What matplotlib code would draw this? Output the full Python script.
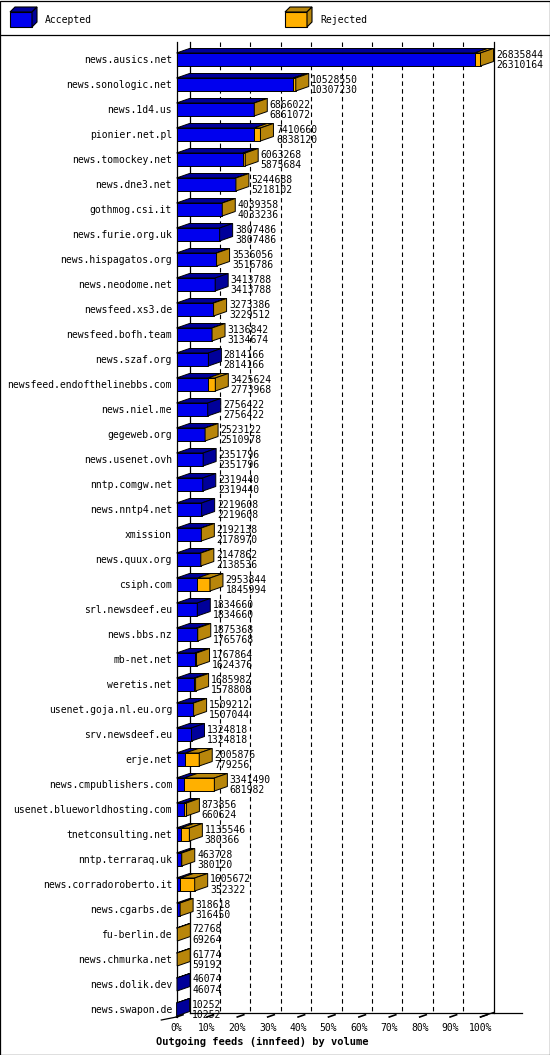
import matplotlib
matplotlib.use("Agg")
import matplotlib.pyplot as plt
from matplotlib.patches import Polygon, Rectangle

sites = ["news.ausics.net","news.sonologic.net","news.1d4.us","pionier.net.pl","news.tomockey.net",
"news.dne3.net","gothmog.csi.it","news.furie.org.uk","news.hispagatos.org","news.neodome.net",
"newsfeed.xs3.de","newsfeed.bofh.team","news.szaf.org","newsfeed.endofthelinebbs.com","news.niel.me",
"gegeweb.org","news.usenet.ovh","nntp.comgw.net","news.nntp4.net","xmission","news.quux.org",
"csiph.com","srl.newsdeef.eu","news.bbs.nz","mb-net.net","weretis.net","usenet.goja.nl.eu.org",
"srv.newsdeef.eu","erje.net","news.cmpublishers.com","usenet.blueworldhosting.com","tnetconsulting.net",
"nntp.terraraq.uk","news.corradoroberto.it","news.cgarbs.de","fu-berlin.de","news.chmurka.net",
"news.dolik.dev","news.swapon.de"]
offered = [26835844,10528550,6866022,7410660,6063268,5244688,4039358,3807486,3536056,3413788,
3273386,3136842,2814166,3425624,2756422,2523122,2351796,2319440,2219608,2192138,2147862,
2953844,1834660,1875368,1767864,1685982,1509212,1324818,2005876,3341490,873856,1135546,
463728,1605672,318618,72768,61774,46074,10252]
accepted = [26310164,10307230,6861072,6838120,5875684,5218102,4033236,3807486,3516786,3413788,
3229512,3134674,2814166,2773968,2756422,2510978,2351796,2319440,2219608,2178970,2138536,
1845994,1834660,1765768,1624376,1578808,1507044,1324818,779256,681982,660624,380366,
380120,352322,316450,69264,59192,46074,10252]
xticks = [0,10,20,30,40,50,60,70,80,90,100]
xlabel = "Outgoing feeds (innfeed) by volume"

W, H = 550, 1055
fig = plt.figure(figsize=(W/100, H/100), dpi=100)
ax = fig.add_axes([0, 0, 1, 1])
sx = 3.04; x0 = 176.5; y0 = 59.5; pitch = 25.0
ax.set_xlim(-x0/sx, (W-x0)/sx)
ax.set_ylim((H-y0)/pitch, -y0/pitch)
ax.axis("off")
def X(px): return (px-x0)/sx
def Y(py): return (py-y0)/pitch

mono = "DejaVu Sans Mono"
fs = 7.0
BLUE, BLUE_D = "#0000ee", "#00009a"
ORG, ORG_D = "#ffb000", "#b8860b"
dx, dy = 13/sx, -4.5/pitch
hh = 6.5/pitch
lk = dict(color="black", lw=0.9)

# frame
ax.add_patch(Rectangle((X(0.5), Y(0.5)), X(549.5)-X(0.5), Y(1054.5)-Y(0.5), fill=False, **lk, zorder=10))
ax.plot([X(0.5), X(549.5)], [Y(35), Y(35)], **lk)

# legend
def cube(xl, yt, w, h, d, cf, cd):
    ax.add_patch(Polygon([(X(xl), Y(yt+d)), (X(xl+w), Y(yt+d)), (X(xl+w), Y(yt+h)), (X(xl), Y(yt+h))], fc=cf, ec="black", lw=0.8))
    ax.add_patch(Polygon([(X(xl), Y(yt+d)), (X(xl+d), Y(yt)), (X(xl+w+d), Y(yt)), (X(xl+w), Y(yt+d))], fc=cd, ec="black", lw=0.8))
    ax.add_patch(Polygon([(X(xl+w), Y(yt+d)), (X(xl+w+d), Y(yt)), (X(xl+w+d), Y(yt+h-d)), (X(xl+w), Y(yt+h))], fc=cd, ec="black", lw=0.8))
cube(10, 7, 22, 20, 5, BLUE, BLUE_D)
ax.text(X(45), Y(20), "Accepted", family=mono, fontsize=fs, va="center")
cube(285, 7, 22, 20, 5, ORG, ORG_D)
ax.text(X(320), Y(20), "Rejected", family=mono, fontsize=fs, va="center")

top, bot = Y(42), Y(1017)
# walls
ax.plot([0, 0], [top, bot], **lk)
ax.plot([dx, dx], [top, bot+dy], **lk)
ax.plot([100+dx, 100+dx], [top, bot+dy], **lk)
for k in xticks[1:-1]:
    ax.plot([k+dx, k+dx], [top, bot+dy], color="black", lw=0.8, ls=(0, (4, 3)), zorder=1)
ax.plot([dx, 100+dx+9.5], [bot+dy, bot+dy], **lk)
ax.plot([-5, 0], [bot+0.12, bot], **lk)
ax.plot([100, 100+dx], [bot, bot+dy], **lk)
for k in xticks:
    ax.plot([k, k+0.5*dx], [bot, bot+0.5*dy], color="black", lw=1.2)
    ax.text(k, Y(1028), f"{k}%", family=mono, fontsize=fs, ha="center", va="center")
ax.text(X(156), Y(1042), xlabel, family=mono, fontsize=7.5, weight="bold", va="center")

mx = max(offered)
for i, (n, o, a) in enumerate(zip(sites, offered, accepted)):
    pa, po = a/mx*100, o/mx*100
    yt, yb = i-hh, i+hh
    ax.add_patch(Polygon([(0, yt), (pa, yt), (pa, yb), (0, yb)], fc=BLUE, ec="black", lw=0.7, zorder=3))
    if po > pa:
        ax.add_patch(Polygon([(pa, yt), (po, yt), (po, yb), (pa, yb)], fc=ORG, ec="black", lw=0.7, zorder=3))
    ax.add_patch(Polygon([(0, yt), (dx, yt+dy), (pa+dx, yt+dy), (pa, yt)], fc=BLUE_D, ec="black", lw=0.7, zorder=3))
    if po > pa:
        ax.add_patch(Polygon([(pa, yt), (pa+dx, yt+dy), (po+dx, yt+dy), (po, yt)], fc=ORG_D, ec="black", lw=0.7, zorder=3))
    sc = ORG_D if o > a else BLUE_D
    ax.add_patch(Polygon([(po, yt), (po+dx, yt+dy), (po+dx, yb+dy), (po, yb)], fc=sc, ec="black", lw=0.7, zorder=3))
    ax.text(X(172), i, n, family=mono, fontsize=fs, ha="right", va="center")
    ax.text(po+dx+0.8, i-0.2, str(o), family=mono, fontsize=fs, va="center", zorder=4)
    ax.text(po+dx+0.8, i+0.22, str(a), family=mono, fontsize=fs, va="center", zorder=4)

fig.savefig("out.png", dpi=100)
